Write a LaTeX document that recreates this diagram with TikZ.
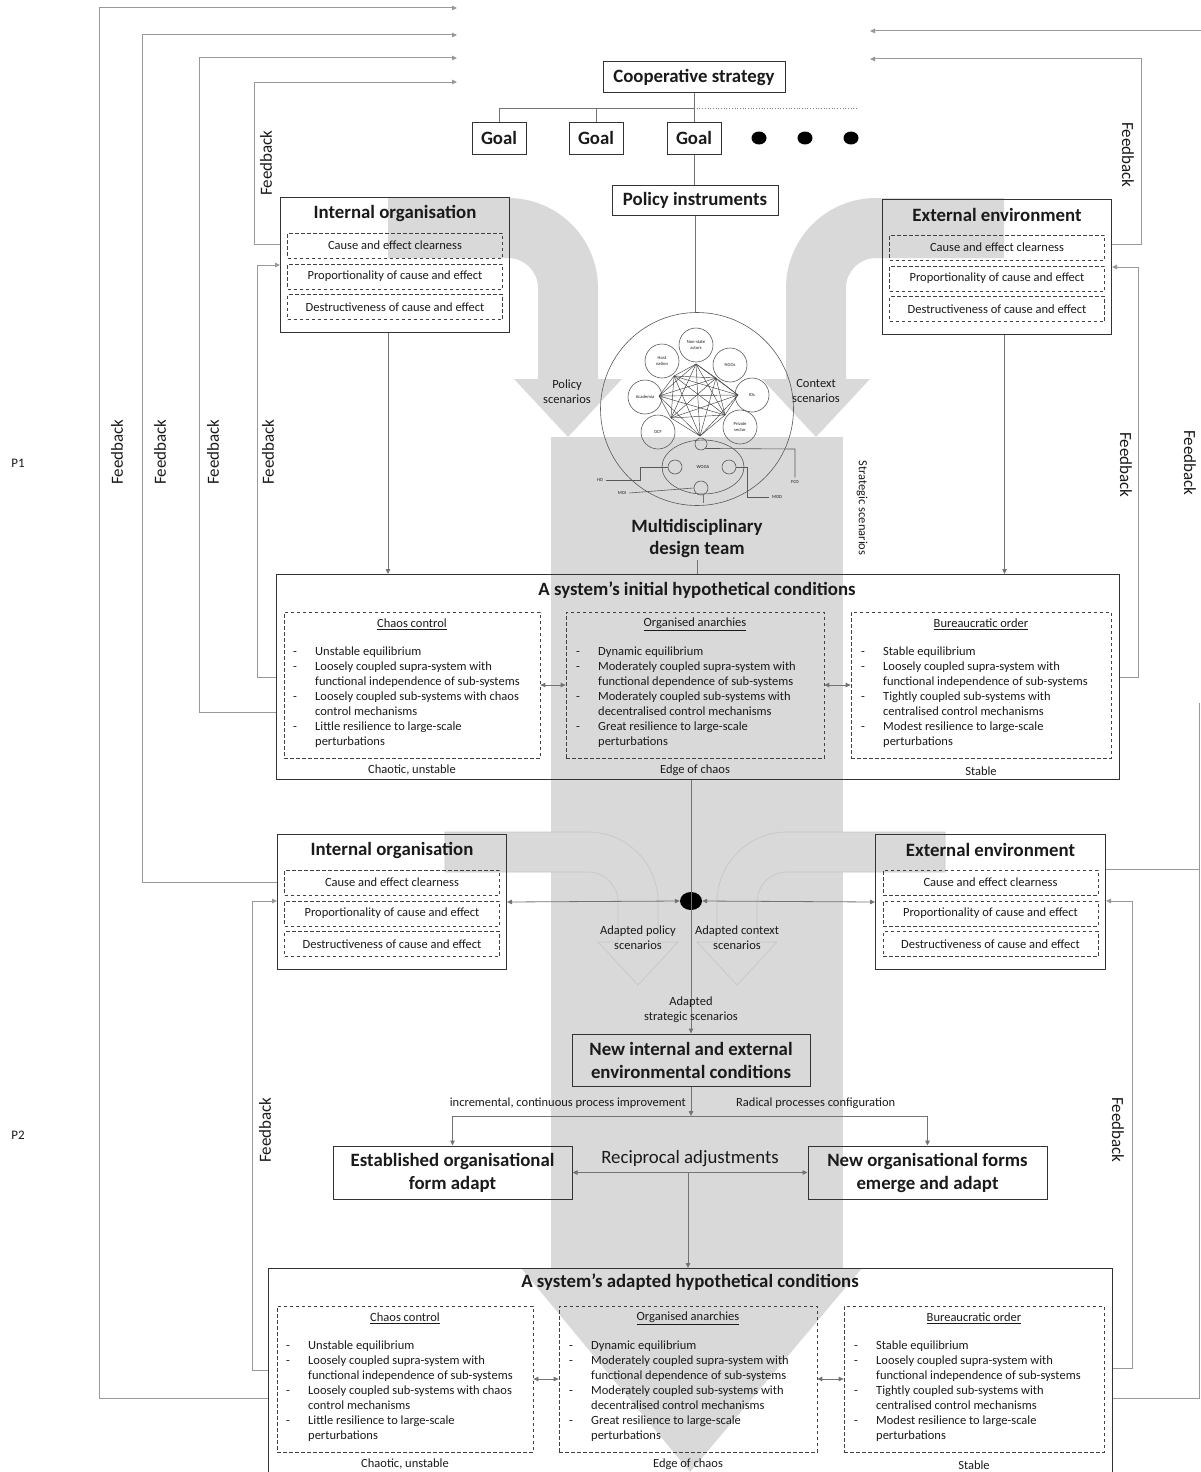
\documentclass[tikz,border=0pt]{standalone}
\usepackage{fontspec}
\setmainfont{Carlito}
\usetikzlibrary{arrows.meta,calc,shapes.geometric}
\definecolor{band}{HTML}{D9D9D9}
\definecolor{ink}{HTML}{1A1A1A}

% three condition columns of a system box (drawn in the coordinates of the first box)
\newcommand\condset[1]{%
  \node[dbox, minimum width=256pt, minimum height=146pt] (#1cc) at (412,685) {};
  \node[dbox, minimum width=258pt, minimum height=146pt] (#1oa) at (695,685) {};
  \node[dbox, minimum width=260pt, minimum height=146pt] (#1bo) at (981,685) {};
  \draw[conn,tips] (#1cc.east) -- (#1oa.west);
  \draw[conn,tips] (#1oa.east) -- (#1bo.west);
  \node[sm] (#1ccH) at (412,624) {\underline{Chaos control}};
  \node[sm] (#1oaH) at (695,624) {\underline{Organised anarchies}};
  \node[sm] (#1boH) at (981,624) {\underline{Bureaucratic order}};
  \foreach \i/\d/\t in {0/1/Unstable equilibrium,
      1/1/Loosely coupled supra-system with,
      2/0/functional independence of sub-systems,
      3/1/Loosely coupled sub-systems with chaos,
      4/0/control mechanisms,
      5/1/Little resilience to large-scale,
      6/0/perturbations}{%
    \node[sm, anchor=mid west] (#1ct\i) at (315,653+15*\i) {\t};
    \ifnum\d=1 \node[sm, anchor=mid west] (#1cd\i) at (293,653+15*\i) {-};\fi}
  \foreach \i/\d/\t in {0/1/Dynamic equilibrium,
      1/1/Moderately coupled supra-system with,
      2/0/functional dependence of sub-systems,
      3/1/Moderately coupled sub-systems with,
      4/0/decentralised control mechanisms,
      5/1/Great resilience to large-scale,
      6/0/perturbations}{%
    \node[sm, anchor=mid west] (#1ot\i) at (598,653+15*\i) {\t};
    \ifnum\d=1 \node[sm, anchor=mid west] (#1od\i) at (576,653+15*\i) {-};\fi}
  \foreach \i/\d/\t in {0/1/Stable equilibrium,
      1/1/Loosely coupled supra-system with,
      2/0/functional independence of sub-systems,
      3/1/Tightly coupled sub-systems with,
      4/0/centralised control mechanisms,
      5/1/Modest resilience to large-scale,
      6/0/perturbations}{%
    \node[sm, anchor=mid west] (#1bt\i) at (883,653+15*\i) {\t};
    \ifnum\d=1 \node[sm, anchor=mid west] (#1bd\i) at (861,653+15*\i) {-};\fi}
  \node[sm] (#1ccF) at (412,770) {Chaotic, unstable};
  \node[sm] (#1oaF) at (695,770) {Edge of chaos};
  \node[sm] (#1boF) at (981,771) {Stable};
}

% internal / external box with its three dashed criteria
\newcommand\envbox[5]{%
  \node[box, minimum width=#4, minimum height=135pt, anchor=north west] (#1) at (#2,#3) {};
  \node[ttl] (#1t) at ($(#1.north)+(0,16)$) {#5};
  \node[dbox, sm, minimum width=215pt, minimum height=25pt] (#1a) at ($(#1.north)+(0,48.5)$) {Cause and effect clearness};
  \node[dbox, sm, minimum width=215pt, minimum height=25pt] (#1b) at ($(#1.north)+(0,79.5)$) {Proportionality of cause and effect};
  \node[dbox, sm, minimum width=215pt, minimum height=25pt] (#1c) at ($(#1.north)+(0,110)$) {Destructiveness of cause and effect};
}

\begin{document}
\begin{tikzpicture}[x=1pt,y=-1pt,
  every node/.style={text=ink, inner sep=0pt},
  box/.style={draw=black!80, line width=1pt},
  dbox/.style={draw=black!75, line width=0.75pt, dash pattern=on 3.5pt off 2.5pt},
  conn/.style={draw=black!55, line width=0.8pt},
  fb/.style={draw=black!40, line width=1pt},
  net/.style={draw=black!65, line width=0.6pt},
  tip/.style={-{Triangle[length=5pt,width=4.5pt]}},
  tips/.style={{Triangle[length=5pt,width=4.5pt]}-{Triangle[length=5pt,width=4.5pt]}},
  ttl/.style={font=\fontsize{18.8}{22}\selectfont\bfseries, align=center},
  big/.style={font=\fontsize{18.8}{23}\selectfont\bfseries, align=center},
  sm/.style={font=\fontsize{12.5}{15}\selectfont, align=center},
  fbl/.style={font=\fontsize{17}{20}\selectfont},
  tiny/.style={font=\fontsize{4.6}{5.2}\selectfont, align=center},
]
\useasboundingbox (0,0) rectangle (1200,1472);

% ---------- grey scenario arrows and the central band ----------
\fill[band] (551,437) rectangle (843,1268);
\fill[band] (521,1268) -- (862,1268) -- (690,1472) -- cycle;
\fill[band] (388,198) -- (508,198) .. controls (557.7,198) and (598,238.3) .. (598,288)
  -- (598,379) -- (622,379) -- (568,437) -- (514,379) -- (538,379) -- (538,288)
  .. controls (538,271.4) and (524.6,258) .. (508,258) -- (388,258) -- cycle;
\fill[band] (1004,198) -- (876,198) .. controls (826.3,198) and (786,238.3) .. (786,288)
  -- (786,379) -- (762,379) -- (816,437) -- (870,379) -- (846,379) -- (846,288)
  .. controls (846,271.4) and (859.4,258) .. (876,258) -- (1004,258) -- cycle;
\filldraw[fill=band, draw=black!22, line width=0.7pt] (445,832) -- (588,832) .. controls (626.7,832) and (658,863.3) .. (658,902)
  -- (658,942) -- (678,942) -- (638,985) -- (598,942) -- (618,942) -- (618,902)
  .. controls (618,885.4) and (604.6,872) .. (588,872) -- (445,872) -- cycle;
\filldraw[fill=band, draw=black!22, line width=0.7pt] (945,832) -- (787,832) .. controls (748.3,832) and (717,863.3) .. (717,902)
  -- (717,942) -- (697,942) -- (737,985) -- (777,942) -- (757,942) -- (757,902)
  .. controls (757,885.4) and (770.4,872) .. (787,872) -- (945,872) -- cycle;

% ---------- strategy, goals, instruments ----------
\node[box, ttl, minimum width=182pt, minimum height=30pt] (cs) at (694,77) {Cooperative strategy};
\node[box, ttl, minimum width=54pt, minimum height=32pt] (g1) at (499,138) {Goal};
\node[box, ttl, minimum width=54pt, minimum height=32pt] (g2) at (596,138) {Goal};
\node[box, ttl, minimum width=54pt, minimum height=32pt] (g3) at (694,138) {Goal};
\coordinate (tb) at (694,108);
\draw[conn] (cs.south) -- (tb);
\draw[conn] (g1.north) |- (tb);
\draw[conn] (g2.north) -- (g2.north |- tb);
\draw[conn] (tb) -- (g3.north);
\draw[black!50, line width=0.7pt, dotted] (tb) -- (858,108);
\fill[black] (759,138) ellipse (7.5 and 6.5);
\fill[black] (805,138) ellipse (7.5 and 6.5);
\fill[black] (851,138) ellipse (7.5 and 6.5);
\node[box, ttl, minimum width=166pt, minimum height=30pt] (pi) at (695,200) {Policy instruments};
\draw[conn] (g3.south) -- (g3.south |- pi.north);

% ---------- multidisciplinary design team ----------
\node[net, circle, minimum size=193pt] (team) at (697,409) {};
\draw[conn] (pi.south) -- (pi.south |- team.north);
\node[net, circle, minimum size=34pt, tiny] (nsa) at (696,345) {Non-state\\actors};
\node[net, circle, minimum size=34pt, tiny] (hn) at (662,361) {Host\\nation};
\node[net, circle, minimum size=34pt, tiny] (ngo) at (730,365) {NGOs};
\node[net, circle, minimum size=34pt, tiny] (aca) at (645,397) {Academia};
\node[net, circle, minimum size=34pt, tiny] (ios) at (752,395) {IOs};
\node[net, circle, minimum size=34pt, tiny] (ocf) at (658,432) {OCF};
\node[net, circle, minimum size=34pt, tiny] (pri) at (740,427) {Private\\sector};
\coordinate (v1) at (696,364); \coordinate (v2) at (674,376);
\coordinate (v3) at (716,378); \coordinate (v4) at (659,396);
\coordinate (v5) at (738,395); \coordinate (v6) at (671,418);
\coordinate (v7) at (725,415); \coordinate (v8) at (700,436);
\foreach \a in {1,...,8}{\foreach \b in {\a,...,8}{\draw[black!75, line width=0.45pt] (v\a) -- (v\b);}}
\node[net, ellipse, minimum width=82pt, minimum height=54pt, tiny] (woga) at (703,467) {WOGA};
\node[net, circle, minimum size=12pt] (wt) at (701,444) {};
\node[net, circle, minimum size=14pt] (wl) at (675,467) {};
\node[net, circle, minimum size=14pt] (wr) at (729,467) {};
\node[net, circle, minimum size=14pt] (wb) at (701,488) {};
\node[tiny] (ho) at (600,480) {HO};
\node[tiny] (moi) at (622,493) {MOI};
\node[tiny] (mod) at (777,497) {MOD};
\node[tiny] (fco) at (795,482) {FCO};
\draw[net] ($(ho.east)+(3,0)$) -- (640,480) -- (640,467) -- (wl.west);
\draw[net] ($(moi.east)+(3,0)$) -- (wb.west);
\draw[net] ($(mod.west)+(-3,0)$) -- (747,497) -- (747,467) -- (wr.east);
\draw[net] ($(fco.north)+(0,-3)$) -- (795,449) -- (wt.south east);
\node[ttl] (mdt) at (697,538) {Multidisciplinary\\design team};
\draw[conn] (woga.south) -- ($(woga.south)+(0,9)$);

\node[sm] (pscen) at (567,392) {Policy\\scenarios};
\node[sm] (cscen) at (816,391) {Context\\scenarios};
\node[sm, rotate=-90] (sscen) at (862,508) {Strategic scenarios};

% ---------- internal organisation / external environment ----------
\envbox{io1}{280}{197}{229pt}{Internal organisation}
\envbox{ee1}{882}{199}{229pt}{External environment}

% ---------- initial hypothetical conditions ----------
\node[box, minimum width=843pt, minimum height=205pt, anchor=north west] (ic) at (276,574) {};
\node[ttl] (ict) at (697,590) {A system’s initial hypothetical conditions};
\condset{i}
\draw[conn] ($(mdt.south)+(0,3)$) -- (mdt.south |- ic.north);
\coordinate (a1) at ($(io1.south)+(-7,0)$);
\draw[conn,tip] (a1) -- (a1 |- ic.north);
\coordinate (a2) at ($(ee1.south)+(7.5,0)$);
\draw[conn,tip] (a2) -- (a2 |- ic.north);

% ---------- second round of internal / external ----------
\envbox{io2}{277}{834}{229pt}{Internal organisation}
\envbox{ee2}{875}{834}{230pt}{External environment}
\node[fill=black, ellipse, minimum width=22pt, minimum height=18pt] (dot) at (691,901) {};
\draw[conn,tips] (io2.east) -- (dot.west);
\draw[conn,tips] (dot.east) -- (ee2.west);
\node[sm] (aps) at (638,938) {Adapted policy\\scenarios};
\node[sm] (acs) at (737,938) {Adapted context\\scenarios};

\node[box, big, minimum width=238pt, minimum height=52pt] (nb) at (691,1060) {New internal and external\\environmental conditions};
\draw[conn,tip] (dot |- ic.south) -- (nb.north);
\node[sm] (ass) at (691,1010) {Adapted\\strategic scenarios};

\node[box, big, minimum width=239pt, minimum height=53pt] (est) at (452.5,1172.5) {Established organisational\\form adapt};
\node[box, big, minimum width=239pt, minimum height=53pt] (nof) at (927.5,1172.5) {New organisational forms\\emerge and adapt};
\coordinate (jn) at (691,1116);
\draw[conn,tip] (nb.south) -- (jn);
\draw[conn,tip] (jn) -| (est.north);
\draw[conn,tip] (jn) -| (nof.north);
\node[sm, anchor=east] (inc) at (686,1103) {incremental, continuous process improvement};
\node[sm, anchor=west] (rad) at (736,1103) {Radical processes configuration};
\node[font=\fontsize{18.8}{22}\selectfont] (rec) at (690,1159) {Reciprocal adjustments};
\draw[conn,tips] (est.east) -- (nof.west);

% ---------- adapted hypothetical conditions ----------
\node[box, minimum width=844pt, minimum height=210pt, anchor=north west] (ad) at (268,1268) {};
\node[ttl] (adt) at (690,1282) {A system’s adapted hypothetical conditions};
\begin{scope}[shift={(-7,694)}]
\condset{a}
\end{scope}
\coordinate (rj) at (688,1172.5);
\draw[conn,tip] (rj) -- (rj |- ad.north);

% ---------- feedback loops ----------
\coordinate (t1) at (457,8);  \coordinate (t2) at (457,35);
\coordinate (t3) at (457,58); \coordinate (t4) at (457,82);
\coordinate (t5) at (870,31); \coordinate (t6) at (870,59);
\draw[fb,tip] ($(ad.north west)+(0,130)$) -- (99,1398) -- (99,8) -- (t1);
\draw[fb,tip] ($(io2.north west)+(0,48)$) -- (142,882) -- (142,35) -- (t2);
\draw[fb,tip] ($(ic.north west)+(0,138)$) -- (199,712) -- (199,58) -- (t3);
\draw[fb,tip] ($(io1.north west)+(0,47)$) -- (254,244) -- (254,82) -- (t4);
\draw[fb,tip] ($(ic.north west)+(0,103)$) -- (257,677) -- (257,265) -- ($(io1.north west)+(0,68)$);
\draw[fb,tip] ($(ad.north west)+(0,102)$) -- (252,1370) -- (252,901) -- ($(io2.north west)+(0,67)$);
\draw[fb,tip] ($(ee1.north east)+(0,45)$) -- (1141,244) -- (1141,59) -- (t6);
\draw[fb,tip] ($(ic.north east)+(0,103)$) -- (1138,677) -- (1138,267) -- ($(ee1.north east)+(0,68)$);
\draw[fb,tip] ($(ad.north east)+(0,100)$) -- (1132,1368) -- (1132,901) -- ($(ee2.north east)+(0,67)$);
\draw[fb] ($(ee2.north east)+(0,35)$) -- (1199,869);
\draw[fb] ($(ad.north east)+(0,130)$) -- (1199,1398) -- (1199,703);
\draw[fb,tip] (1201,31) -- (t5);

\node[fbl, rotate=90] (fb1) at (117,452) {Feedback};
\node[fbl, rotate=90] (fb2) at (160,452) {Feedback};
\node[fbl, rotate=90] (fb3) at (213,452) {Feedback};
\node[fbl, rotate=90] (fb4) at (268,452) {Feedback};
\node[fbl, rotate=90] (fb5) at (266,163) {Feedback};
\node[fbl, rotate=90] (fb6) at (265,1130) {Feedback};
\node[fbl, rotate=-90] (fb7) at (1128,155) {Feedback};
\node[fbl, rotate=-90] (fb8) at (1126,465) {Feedback};
\node[fbl, rotate=-90] (fb9) at (1190,463) {Feedback};
\node[fbl, rotate=-90] (fb10) at (1118,1130) {Feedback};

\node[font=\fontsize{13}{15}\selectfont] (p1) at (18,463) {P1};
\node[font=\fontsize{13}{15}\selectfont] (p2) at (18,1135) {P2};
\end{tikzpicture}
\end{document}
